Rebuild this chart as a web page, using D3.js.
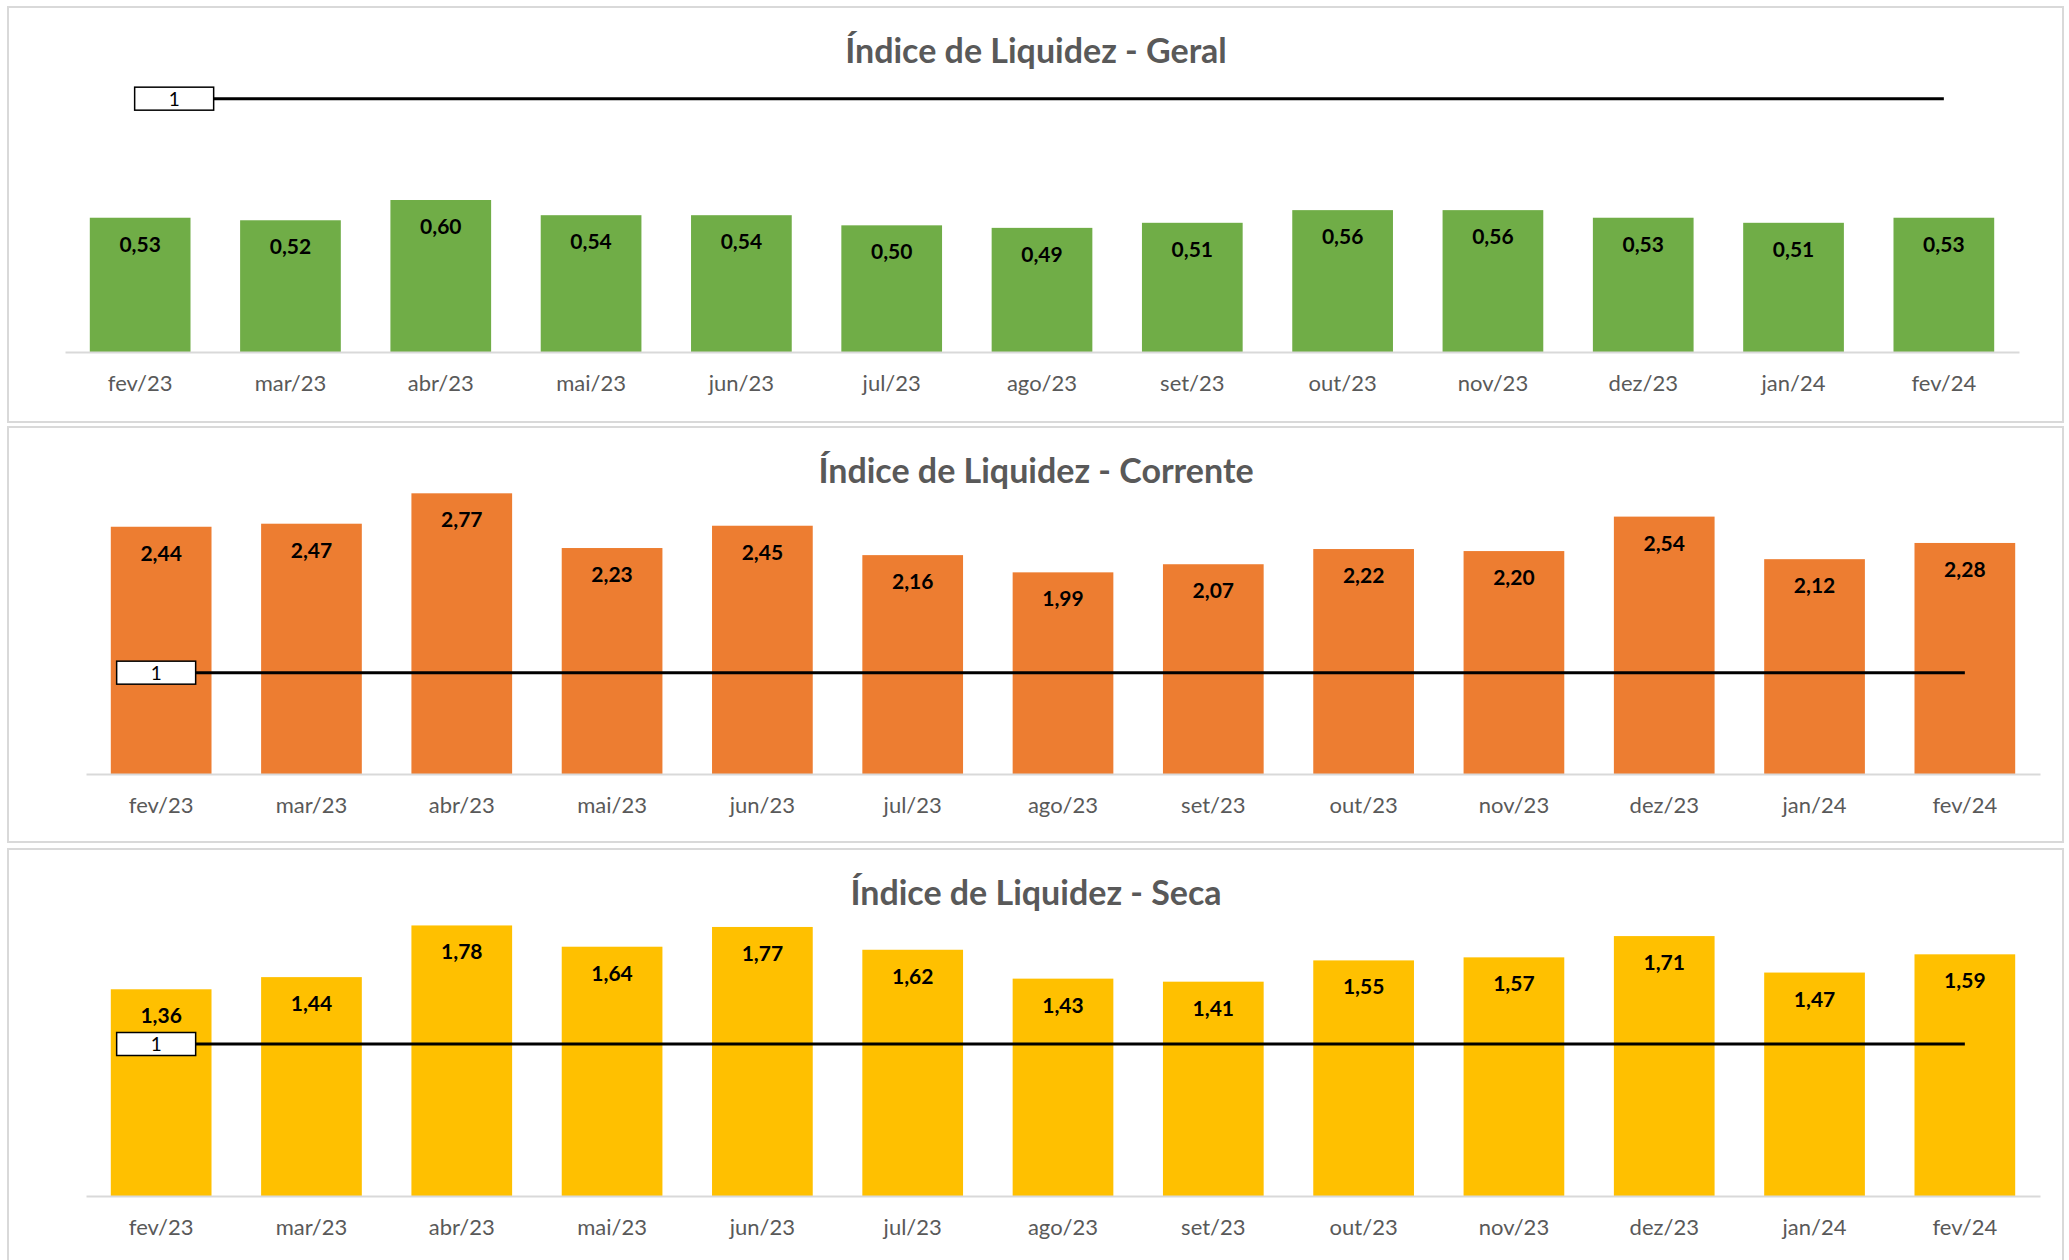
<!DOCTYPE html>
<html>
<head>
<meta charset="utf-8">
<script src="https://cdn.jsdelivr.net/npm/d3@7"></script>
<style>
  body { margin: 0; background: #fff; }
  text { font-family: Lato, "Open Sans", sans-serif; }
</style>
</head>
<body>
<script>
const W = 2069;
const H = 1260;

// dados
const meses = ["fev/23", "mar/23", "abr/23", "mai/23", "jun/23", "jul/23", "ago/23",
               "set/23", "out/23", "nov/23", "dez/23", "jan/24", "fev/24"];
const geral = [0.53, 0.52, 0.60, 0.54, 0.54, 0.50, 0.49, 0.51, 0.56, 0.56, 0.53, 0.51, 0.53];
const corrente = [2.44, 2.47, 2.77, 2.23, 2.45, 2.16, 1.99, 2.07, 2.22, 2.20, 2.54, 2.12, 2.28];
const seca = [1.36, 1.44, 1.78, 1.64, 1.77, 1.62, 1.43, 1.41, 1.55, 1.57, 1.71, 1.47, 1.59];
const referencia = 1;

const titulos = ["Índice de Liquidez - Geral", "Índice de Liquidez - Corrente", "Índice de Liquidez - Seca"];
const cores = ["#70AD47", "#ED7D31", "#FFC000"];
const yMax = [1.2, 3, 2];

// layout de cada painel
const paineis = [
  { serie: geral, top: 7, h: 415, base: 345, x0: 65, x1: 2019, boxDx: 34 },
  { serie: corrente, top: 427, h: 415, base: 347, x0: 86, x1: 2040, boxDx: -5 },
  { serie: seca, top: 849, h: 440, base: 347, x0: 86, x1: 2040, boxDx: -5 }
];

const fmt = v => d3.format(".2f")(v).replace(".", ",");

const svg = d3.select("body").append("svg").attr("width", W).attr("height", H);

paineis.forEach(function(p, i) {
  const g = svg.append("g").attr("transform", "translate(0," + p.top + ")");

  // moldura
  g.append("rect")
    .attr("x", 8).attr("y", 0)
    .attr("width", 2055).attr("height", p.h)
    .attr("fill", "#fff")
    .attr("stroke", "#d9d9d9")
    .attr("stroke-width", 2);

  // título
  g.append("text")
    .attr("x", 1036)
    .attr("y", 56)
    .attr("text-anchor", "middle")
    .style("font-size", "34px")
    .style("font-weight", "bold")
    .style("fill", "#595959")
    .text(titulos[i]);

  const xScale = d3.scaleBand()
    .domain(meses)
    .range([p.x0, p.x1])
    .paddingInner(0.33)
    .paddingOuter(0.165);

  const yScale = d3.scaleLinear()
    .domain([0, yMax[i]])
    .range([p.base, p.base - 304]);

  // barras
  g.selectAll("rect.bar")
    .data(p.serie)
    .enter()
    .append("rect")
    .attr("class", "bar")
    .attr("x", (d, j) => xScale(meses[j]))
    .attr("y", d => yScale(d))
    .attr("width", xScale.bandwidth())
    .attr("height", d => yScale(0) - yScale(d))
    .attr("fill", cores[i]);

  // rótulos das barras
  g.selectAll("text.valor")
    .data(p.serie)
    .enter()
    .append("text")
    .attr("class", "valor")
    .attr("x", (d, j) => xScale(meses[j]) + xScale.bandwidth() / 2)
    .attr("y", d => yScale(d) + 34)
    .attr("text-anchor", "middle")
    .style("font-size", "21px")
    .style("font-weight", "bold")
    .style("fill", "#000")
    .text(d => fmt(d));

  // eixo x
  const xAxis = d3.axisBottom(xScale).tickSize(0).tickPadding(23);
  const ax = g.append("g")
    .attr("transform", "translate(0," + p.base + ")")
    .call(xAxis);
  ax.select(".domain").attr("stroke", "#d9d9d9").attr("stroke-width", 2);
  ax.selectAll("text")
    .style("font-size", "22px")
    .style("fill", "#595959")
    .style("font-family", "Lato, 'Open Sans', sans-serif");

  // linha de referência = 1
  const cx = m => xScale(m) + xScale.bandwidth() / 2;
  const linha = d3.line()
    .x(d => cx(d))
    .y(() => yScale(referencia));
  g.append("path")
    .datum([meses[0], meses[meses.length - 1]])
    .attr("d", linha)
    .attr("fill", "none")
    .attr("stroke", "#000")
    .attr("stroke-width", 3);

  // caixa do rótulo da linha
  const bw = 79, bh = 23;
  const bx = cx(meses[0]) + p.boxDx - bw / 2;
  g.append("rect")
    .attr("x", bx)
    .attr("y", yScale(referencia) - bh / 2)
    .attr("width", bw)
    .attr("height", bh)
    .attr("fill", "#fff")
    .attr("stroke", "#000")
    .attr("stroke-width", 1.5);
  g.append("text")
    .attr("x", bx + bw / 2)
    .attr("y", yScale(referencia) + 7)
    .attr("text-anchor", "middle")
    .style("font-size", "19px")
    .style("fill", "#000")
    .text(referencia);
});
</script>
</body>
</html>
